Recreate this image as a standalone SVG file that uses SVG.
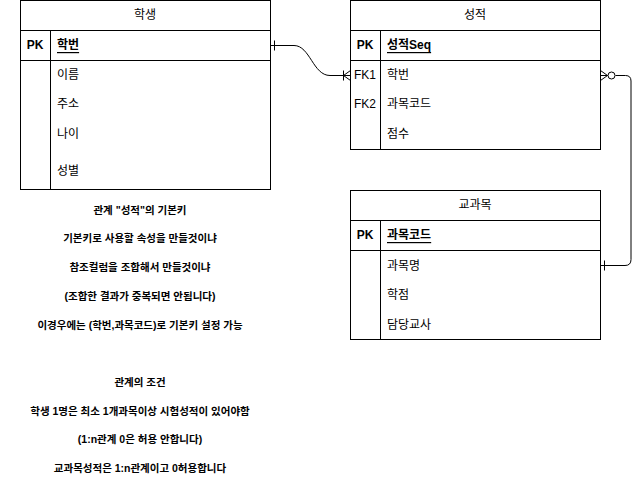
<svg xmlns="http://www.w3.org/2000/svg" width="640" height="479" viewBox="0 0 640 479">
<style>
.box{fill:#fff;stroke:#000;stroke-width:1}
.ln{stroke:#000;stroke-width:1;fill:none}
text{font-family:"Liberation Sans","Noto Sans CJK KR",Arial,sans-serif;font-size:12px;fill:#000;dominant-baseline:central}
.c{text-anchor:middle}
.b{font-weight:bold}
.u{text-decoration:underline}
.note{font-size:10.5px;text-anchor:middle;font-weight:bold}
</style>
<rect width="640" height="479" fill="#fff"/>
<g id="student">
<rect class="box" x="20.5" y="0.5" width="250" height="189"/>
<line class="ln" x1="20.5" y1="30.5" x2="270.5" y2="30.5"/>
<line class="ln" x1="20.5" y1="60.5" x2="270.5" y2="60.5"/>
<line class="ln" x1="50.5" y1="30.5" x2="50.5" y2="189.5"/>
<text class="c" x="145" y="15">학생</text>
<text class="c b" x="35" y="45">PK</text>
<text class="b u" x="57" y="45">학번</text>
<text x="57" y="75">이름</text>
<text x="57" y="104">주소</text>
<text x="57" y="134">나이</text>
<text x="57" y="171">성별</text>
</g>
<g id="grade">
<rect class="box" x="350.5" y="0.5" width="250" height="149"/>
<line class="ln" x1="350.5" y1="30.5" x2="600.5" y2="30.5"/>
<line class="ln" x1="350.5" y1="60.5" x2="600.5" y2="60.5"/>
<line class="ln" x1="380.5" y1="30.5" x2="380.5" y2="149.5"/>
<text class="c" x="475" y="15">성적</text>
<text class="c b" x="365" y="45">PK</text>
<text class="b u" x="387" y="45">성적Seq</text>
<text class="c" x="365" y="75">FK1</text>
<text x="387" y="75">학번</text>
<text class="c" x="365" y="104">FK2</text>
<text x="387" y="104">과목코드</text>
<text x="387" y="134">점수</text>
</g>
<g id="subject">
<rect class="box" x="350.5" y="190.5" width="250" height="149"/>
<line class="ln" x1="350.5" y1="220.5" x2="600.5" y2="220.5"/>
<line class="ln" x1="350.5" y1="250.5" x2="600.5" y2="250.5"/>
<line class="ln" x1="380.5" y1="220.5" x2="380.5" y2="339.5"/>
<text class="c" x="475" y="205">교과목</text>
<text class="c b" x="365" y="235">PK</text>
<text class="b u" x="387" y="235">과목코드</text>
<text x="387" y="266">과목명</text>
<text x="387" y="295">학점</text>
<text x="387" y="325">담당교사</text>
</g>
<g id="connectors">
<path class="ln" d="M270.5 45.5 H294 C310 45.5 313 75.5 330 75.5 H350.5"/>
<line class="ln" x1="274.5" y1="40.5" x2="274.5" y2="50.5"/>
<line class="ln" x1="343.5" y1="70.5" x2="343.5" y2="80.5"/>
<path class="ln" d="M350.5 70.5 L343.5 75.5 L350.5 80.5"/>
<path class="ln" d="M600.5 75.5 H607.5 M615.5 75.5 H625.5 Q631 75.5 631 81 V259.5 Q631 265.5 625 265.5 H600.5"/>
<path class="ln" d="M600.5 70.5 L607.5 75.5 L600.5 80.5"/>
<circle class="ln" cx="611.5" cy="75.5" r="3.5"/>
<line class="ln" x1="604.5" y1="260.5" x2="604.5" y2="270.5"/>
</g>
<g id="notes">
<text class="note" x="140" y="210">관계 "성적"의 기본키</text>
<text class="note" x="140" y="238">기본키로 사용할 속성을 만들것이냐</text>
<text class="note" x="140" y="267">참조컬럼을 조합해서 만들것이냐</text>
<text class="note" x="140" y="296">(조합한 결과가 중복되면 안됩니다)</text>
<text class="note" x="140" y="325">이경우에는 (학번,과목코드)로 기본키 설정 가능</text>
<text class="note" x="140" y="382">관계의 조건</text>
<text class="note" x="140" y="411">학생 1명은 최소 1개과목이상 시험성적이 있어야함</text>
<text class="note" x="140" y="439">(1:n관계 0은 허용 안합니다)</text>
<text class="note" x="140" y="468">교과목성적은 1:n관계이고 0허용합니다</text>
</g>
</svg>
